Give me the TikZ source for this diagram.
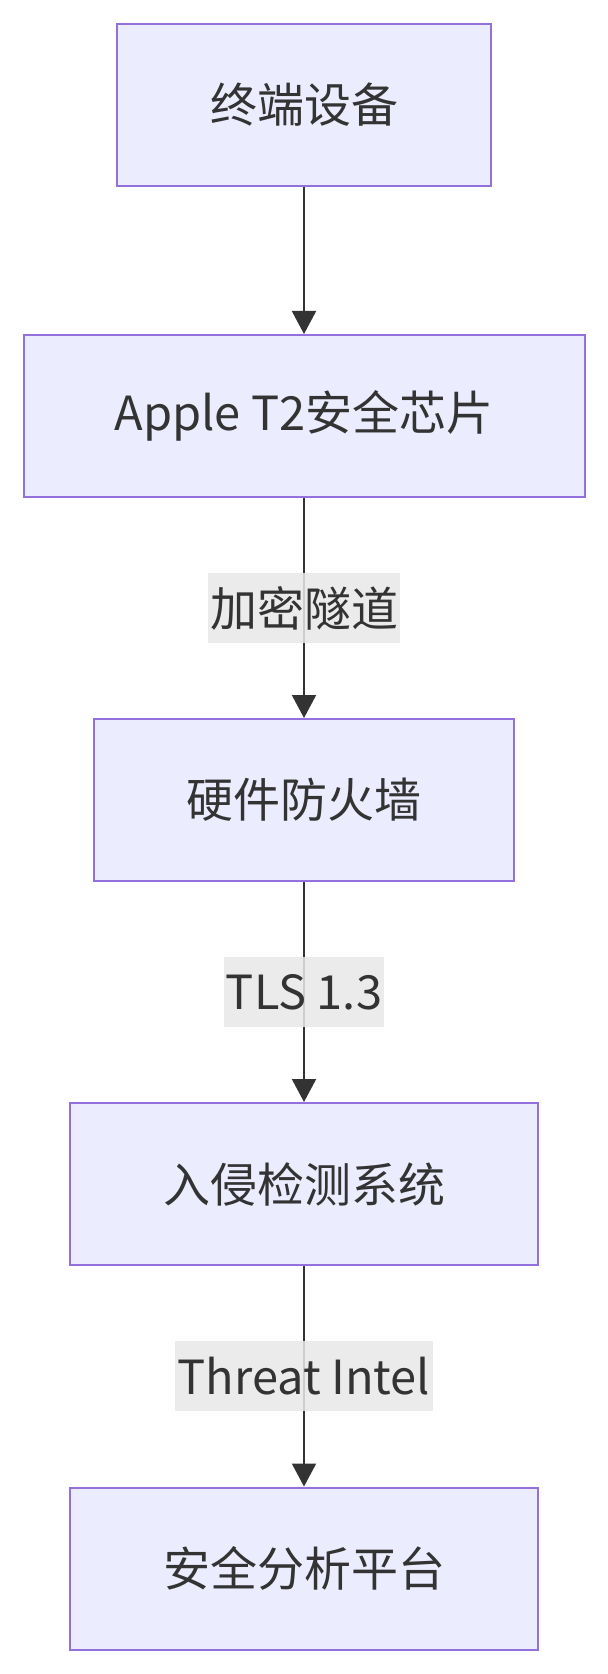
\documentclass[tikz,border=0pt]{standalone}
\usepackage{fontspec}
\usepackage{xcolor}
\usepackage{tikz}
\usetikzlibrary{positioning, arrows.meta}
\newfontfamily\cjk{Noto Sans CJK SC}
\definecolor{nodefill}{HTML}{ECECFF}
\definecolor{nodeline}{HTML}{9370DB}
\definecolor{edgefill}{HTML}{E8E8E8}
\definecolor{inktext}{HTML}{333333}

\begin{document}
\begin{tikzpicture}[
    x=0.5pt, y=-0.5pt,
    block/.style={rectangle, draw=nodeline, line width=1pt, fill=nodefill, minimum height=81pt, minimum width=#1, text=inktext, font=\cjk\fontsize{23.5}{28}\selectfont, inner sep=0pt},
    block/.default=200pt,
    arrow/.style={-{Triangle[length=11.5pt, width=12pt]}, line width=1pt, draw=inktext},
    edgelabel/.style={fill=edgefill, fill opacity=0.85, text opacity=1, text=inktext, font=\cjk\fontsize{23.5}{28}\selectfont, minimum height=35pt, inner xsep=1pt, inner ysep=0pt},
]
\useasboundingbox (0,0) rectangle (608,1674);

% --- flow nodes ---
\node[block=186.7pt] (dev) at (304, 104.7) {终端设备};
\node[block=280.5pt] (chip) at (304, 416) {Apple T2安全芯片};
\node[block=210pt] (fw) at (304, 800) {硬件防火墙};
\node[block=234pt] (ids) at (304, 1184) {入侵检测系统};
\node[block=234pt] (soc) at (304, 1568.5) {安全分析平台};

% --- connectors ---
\draw[arrow] (dev) -- (chip);
\draw[arrow] (chip) -- node[edgelabel, minimum width=96pt] (l1) {加密隧道} (fw);
\draw[arrow] (fw) -- node[edgelabel, minimum width=79pt] (l2) {TLS 1.3} (ids);
\draw[arrow] (ids) -- node[edgelabel, minimum width=129pt] (l3) {Threat Intel} (soc);

\end{tikzpicture}
\end{document}
